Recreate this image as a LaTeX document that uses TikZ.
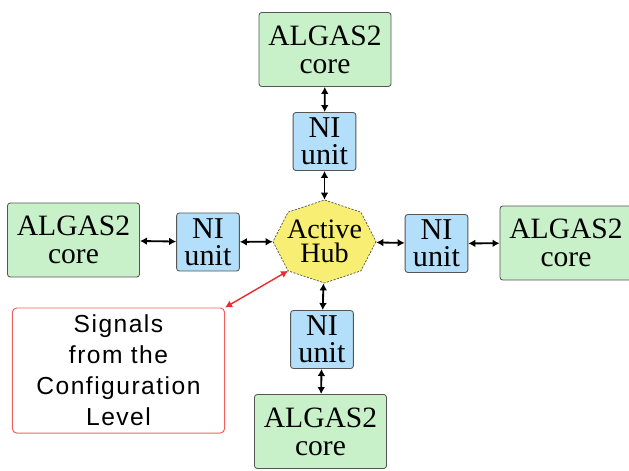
\documentclass[tikz,border=0pt]{standalone}
\usepackage{fontspec}
\newfontfamily\boxfont{Liberation Serif}
\newfontfamily\sigfont[LetterSpace=6]{Liberation Sans}
\usetikzlibrary{arrows.meta}
\definecolor{coregreen}{HTML}{C9F1C9}
\definecolor{niblue}{HTML}{B3DFFA}
\definecolor{hubyellow}{HTML}{F8EE74}
\definecolor{boxgray}{HTML}{555555}
\definecolor{sigred}{HTML}{EE2A2A}
\tikzset{
  core/.style={draw=boxgray, fill=coregreen, rounded corners=2pt, line width=0.6pt, minimum width=3.3cm, minimum height=1.85cm, inner sep=0pt, align=center, font=\boxfont\fontsize{21}{20}\selectfont},
  ni/.style={draw=boxgray, fill=niblue, rounded corners=2pt, line width=0.6pt, minimum width=1.57cm, minimum height=1.45cm, inner sep=0pt, align=center, font=\boxfont\fontsize{21.5}{19}\selectfont},
  hubtext/.style={minimum width=2.575cm, minimum height=2.075cm, inner sep=0pt, align=center, font=\boxfont\fontsize{20}{17.5}\selectfont},
  hubline/.style={draw=boxgray, fill=hubyellow, line width=0.5pt, dash pattern=on 1.5pt off 1pt},
  sigbox/.style={draw=sigred!75, rounded corners=3pt, line width=0.7pt, minimum width=5.3cm, minimum height=3.125cm, inner sep=0pt, align=center, font=\sigfont\fontsize{17.5}{22}\selectfont},
  link/.style={{Latex[length=5pt,width=5.5pt]}-{Latex[length=5pt,width=5.5pt]}, line width=1.3pt},
  siglink/.style={link, draw=sigred, line width=1pt}
}
\begin{document}
\begin{tikzpicture}[x=0.025cm, y=-0.025cm]
  \useasboundingbox (0,0) rectangle (629,470);
  \draw[hubline, shift={(324.5,241.5)}] (0:51.5 and 41.5) \foreach \a in {45,90,...,315} { -- (\a:51.5 and 41.5) } -- cycle;
  \node[hubtext] (hub) at (324.5,241.5) {Active\\Hub};
  \node[core] (coreT) at (325,49.5) {ALGAS2\\core};
  \node[ni] (niT) at (324.5,141.5) {NI\\unit};
  \node[ni] (niL) at (208,242) {NI\\unit};
  \node[core] (coreL) at (73.5,240) {ALGAS2\\core};
  \node[ni] (niR) at (436.5,243.5) {NI\\unit};
  \node[core] (coreR) at (566,243) {ALGAS2\\core};
  \node[ni] (niB) at (322,339.5) {NI\\unit};
  \node[core] (coreB) at (320.5,431.5) {ALGAS2\\core};
  \node[sigbox] (sig) at (118.5,370.5) {Signals\\from the\\Configuration\\Level};
  \coordinate (hubsw) at ([shift={(135:51.5 and 41.5)}]hub.center);
  \draw[link] (coreT) -- (niT);
  \draw[link] (niT) -- (hub);
  \draw[link] (coreL) -- (niL);
  \draw[link] (niL) -- (hub);
  \draw[link] (hub) -- (niR);
  \draw[link] (niR) -- (coreR);
  \draw[link] (hub) -- (niB);
  \draw[link] (niB) -- (coreB);
  \draw[siglink] (sig.north east) -- (hubsw);
\end{tikzpicture}
\end{document}
